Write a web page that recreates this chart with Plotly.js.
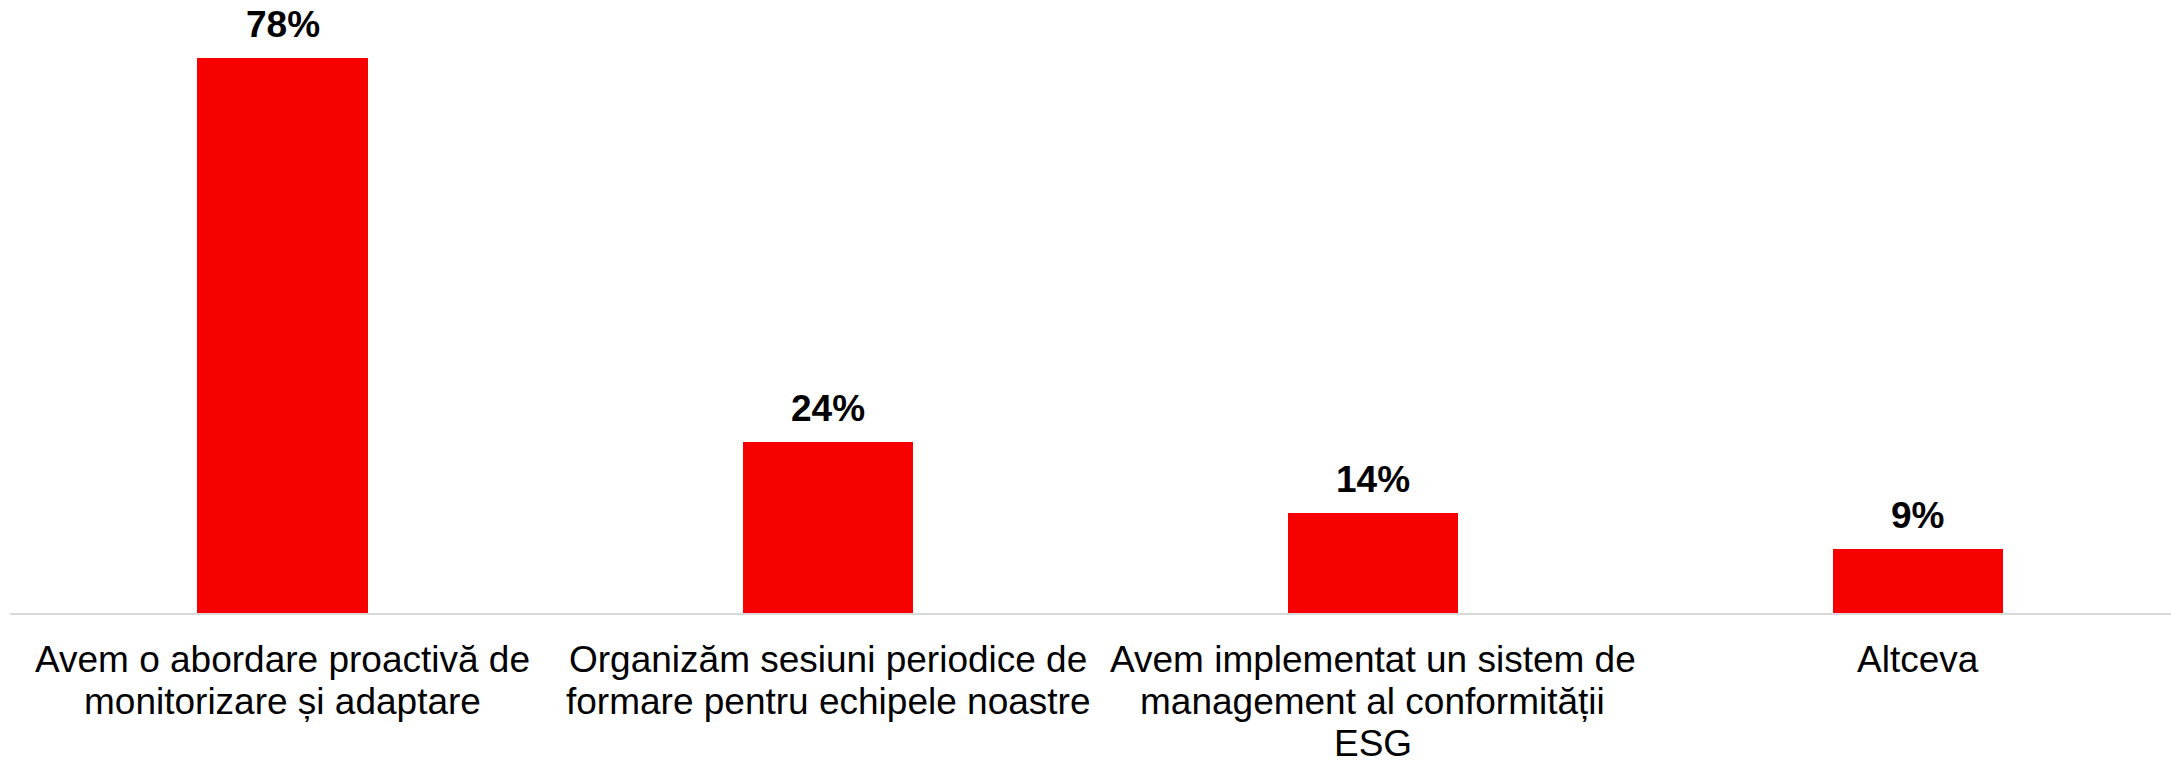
<!DOCTYPE html>
<html>
<head>
<meta charset="utf-8">
<script src="https://cdn.plot.ly/plotly-3.0.1.min.js"></script>
<style>
html,body{margin:0;padding:0;background:#fff;}
#chart{width:2171px;height:761px;}
</style>
</head>
<body>
<div id="chart"></div>
<script>
// Data
const categories = ["cat0", "cat1", "cat2", "cat3"];
const categoryLabels = [
  ["Avem o abordare proactivă de", "monitorizare și adaptare"],
  ["Organizăm sesiuni periodice de", "formare pentru echipele noastre"],
  ["Avem implementat un sistem de", "management al conformității", "ESG"],
  ["Altceva"]
];
const values = [78, 24, 14, 9];
const valueLabels = ["78%", "24%", "14%", "9%"];

const FONT = "Liberation Sans, Arial, sans-serif";
const BAR_COLOR = "#f70000";

const trace = {
  type: "bar",
  x: categories,
  y: values,
  width: 0.312,
  marker: {color: BAR_COLOR, line: {width: 0}},
  hoverinfo: "skip"
};

const annotations = [];
categories.forEach((c, i) => {
  annotations.push({
    x: c, y: values[i], xref: "x", yref: "y",
    text: valueLabels[i], showarrow: false,
    xanchor: "center", yanchor: "bottom", yshift: 11,
    font: {family: FONT, size: 37, color: "#000000", weight: "bold"}
  });
  categoryLabels[i].forEach((line, k) => {
    annotations.push({
      x: c, y: 0, xref: "x", yref: "paper",
      text: line, showarrow: false,
      xanchor: "center", yanchor: "top", yshift: -24 - 42 * k,
      font: {family: FONT, size: 37, color: "#000000"}
    });
  });
});

const layout = {
  width: 2171, height: 761,
  margin: {l: 10, r: 0, t: 0, b: 148, pad: 0},
  paper_bgcolor: "#ffffff", plot_bgcolor: "#ffffff",
  showlegend: false,
  bargap: 0,
  xaxis: {
    type: "category",
    range: [-0.5, 3.465],
    showticklabels: false,
    ticks: "",
    showgrid: false, zeroline: false,
    showline: true, linecolor: "#d9d9d9", linewidth: 1.5
  },
  yaxis: {
    range: [0, 86.2],
    visible: false, showgrid: false, zeroline: false
  },
  annotations: annotations,
  font: {family: FONT}
};

Plotly.newPlot("chart", [trace], layout, {staticPlot: true, displayModeBar: false});
</script>
</body>
</html>
